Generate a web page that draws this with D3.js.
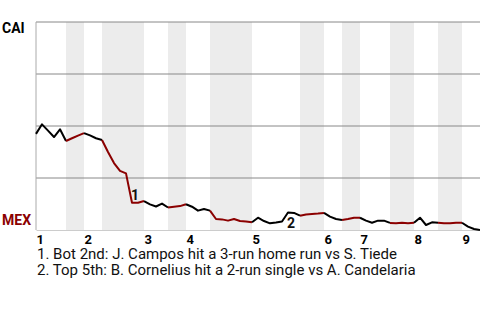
<!DOCTYPE html>
<html>
<head>
<script src="https://d3js.org/d3.v7.min.js"></script>
<style>
  body { margin: 0; background: #fff; }
  svg { font-family: Roboto, "Liberation Sans", sans-serif; }
</style>
</head>
<body>
<div id="chart"></div>
<script>
// win probability for CAI after each play (0 = MEX wins)
const winProb = [
  0.462, 0.508, 0.478, 0.447, 0.484, 0.428, 0.441, 0.454, 0.466, 0.455,
  0.441, 0.433, 0.375, 0.322, 0.284, 0.272, 0.131, 0.131, 0.139, 0.123,
  0.113, 0.127, 0.108, 0.112, 0.115, 0.124, 0.112, 0.093, 0.101, 0.093,
  0.053, 0.051, 0.045, 0.053, 0.043, 0.041, 0.037, 0.059, 0.043, 0.032,
  0.036, 0.041, 0.084, 0.082, 0.069, 0.075, 0.077, 0.079, 0.082, 0.064,
  0.053, 0.048, 0.053, 0.059, 0.059, 0.045, 0.035, 0.045, 0.045, 0.034,
  0.032, 0.035, 0.032, 0.035, 0.059, 0.024, 0.037, 0.035, 0.032, 0.032,
  0.035, 0.035, 0.016, 0.005, 0.0
];
const topStarts = [0, 8, 18, 25, 36, 48, 54, 63, 71];
const botStarts = [5, 11, 22, 29, 44, 51, 59, 67];
const inningLabels = ["1", "2", "3", "4", "5", "6", "7", "8", "9"];
const awayTeam = "CAI";
const homeTeam = "MEX";
const eventPlays = [16, 42];
const eventNums = ["1", "2"];
const eventNotes = [
  "1. Bot 2nd: J. Campos hit a 3-run home run vs S. Tiede",
  "2. Top 5th: B. Cornelius hit a 2-run single vs A. Candelaria"
];
const gridValues = [0.25, 0.5, 0.75, 1];

const width = 480, height = 320;
const margin = {top: 22, right: 0, bottom: 90, left: 36};
const homeColor = "#8b0000";

const lastPlay = winProb.length - 1;
const x = d3.scaleLinear().domain([0, lastPlay]).range([margin.left, width - margin.right]);
const y = d3.scaleLinear().domain([0, 1]).range([height - margin.bottom, margin.top]);

const svg = d3.select("#chart").append("svg")
    .attr("width", width)
    .attr("height", height);

// shaded bottom halves
const halves = botStarts.map(function(b, i) {
  return {start: b, end: i + 1 < topStarts.length ? topStarts[i + 1] : lastPlay};
});
svg.selectAll(".band")
  .data(halves)
  .enter().append("rect")
    .attr("x", d => x(d.start))
    .attr("width", d => x(d.end) - x(d.start))
    .attr("y", y(1))
    .attr("height", y(0) - y(1))
    .attr("fill", "#ececec");

// gridlines
svg.selectAll(".grid")
  .data(gridValues)
  .enter().append("line")
    .attr("x1", x(0))
    .attr("x2", x(lastPlay))
    .attr("y1", d => y(d))
    .attr("y2", d => y(d))
    .attr("stroke", "#888")
    .attr("stroke-width", 1);

// x axis
const xAxis = svg.append("g")
    .attr("transform", "translate(0," + y(0) + ")")
    .call(d3.axisBottom(x)
      .tickValues(topStarts)
      .tickSize(0)
      .tickFormat((d, i) => inningLabels[i]));
xAxis.select(".domain").attr("stroke", "#ccc");
xAxis.selectAll("text")
    .attr("text-anchor", "start")
    .attr("dy", null)
    .attr("y", 13.5)
    .attr("fill", "#000")
    .style("font-size", "13px")
    .style("font-weight", "bold")
    .style("font-family", "Roboto, sans-serif");

// y axis line
svg.append("line")
    .attr("x1", x(0)).attr("x2", x(0))
    .attr("y1", y(1)).attr("y2", y(0))
    .attr("stroke", "#aaa");

// team labels
svg.append("text")
    .attr("x", 2).attr("y", y(1) + 11)
    .style("font-size", "14px").style("font-weight", "bold")
    .attr("fill", "#000")
    .text(awayTeam);
svg.append("text")
    .attr("x", 2).attr("y", y(0) - 5)
    .style("font-size", "14px").style("font-weight", "bold")
    .attr("fill", homeColor)
    .text(homeTeam);

// win probability line, coloured by half inning
const line = d3.line()
    .x(d => x(d))
    .y(d => y(winProb[d]));
const segments = [];
const starts = topStarts.concat(botStarts).sort(d3.ascending);
starts.forEach(function(s, i) {
  const e = i + 1 < starts.length ? starts[i + 1] : lastPlay;
  segments.push({plays: d3.range(s, e + 1), home: botStarts.indexOf(s) >= 0});
});
svg.selectAll(".seg")
  .data(segments)
  .enter().append("path")
    .attr("d", d => line(d.plays))
    .attr("fill", "none")
    .attr("stroke", d => d.home ? homeColor : "#000")
    .attr("stroke-width", 2)
    .attr("stroke-linejoin", "round");

// event markers
svg.selectAll(".evt")
  .data(eventPlays)
  .enter().append("text")
    .attr("x", d => x(d) - 1)
    .attr("y", d => winProb[d] < winProb[d - 1] ? y(winProb[d]) - 3 : y(winProb[d]) + 15.5)
    .style("font-size", "14px").style("font-weight", "bold")
    .attr("fill", "#111")
    .text((d, i) => eventNums[i]);

// event notes
svg.selectAll(".note")
  .data(eventNotes)
  .enter().append("text")
    .attr("x", x(0) + 1)
    .attr("y", (d, i) => 259 + i * 16)
    .style("font-size", "15px")
    .attr("fill", "#111")
    .text(d => d);
</script>
</body>
</html>
